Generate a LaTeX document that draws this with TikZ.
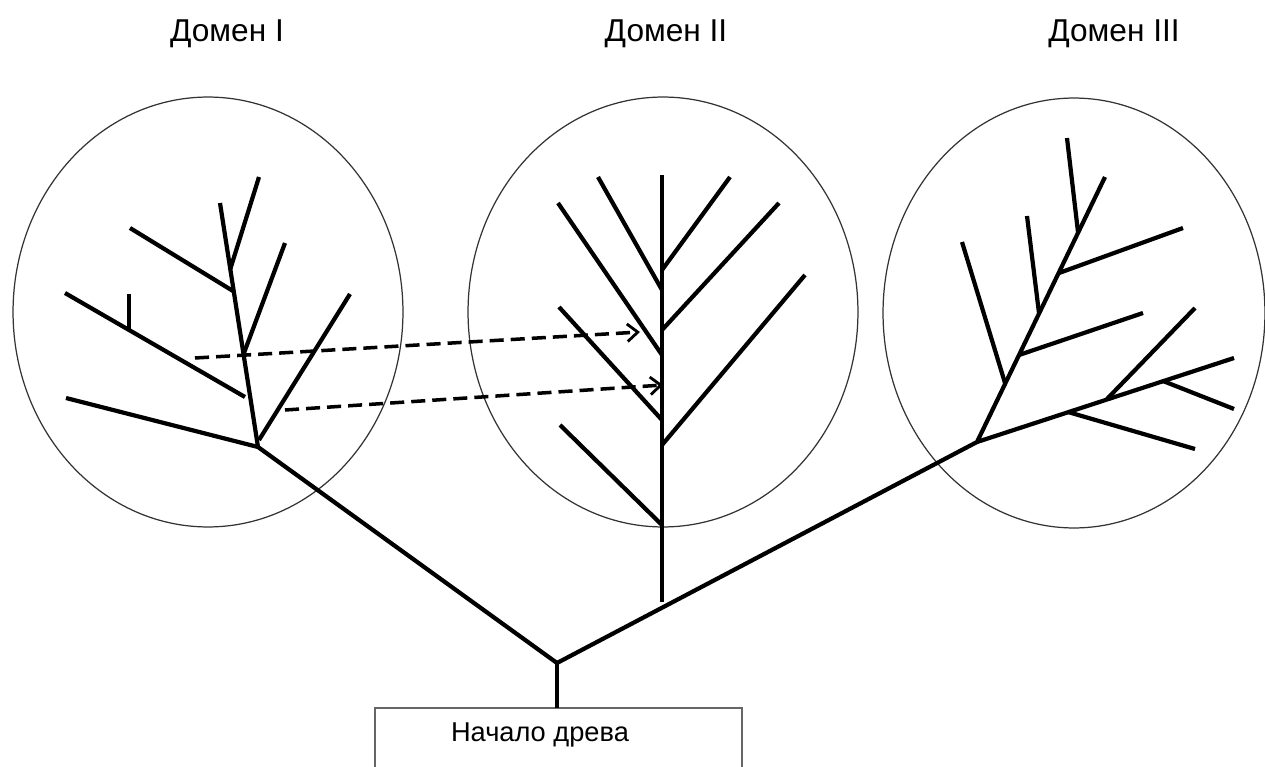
\documentclass[tikz,border=0pt]{standalone}
\usepackage{fontspec}
\setmainfont{Liberation Sans}
\usetikzlibrary{positioning}
\usetikzlibrary{arrows.meta}

\tikzset{
	branch/.style={line width=2.4pt, line join=round},
	domainring/.style={line width=0.7pt, black!80},
	transfer/.style={line width=2pt, dash pattern=on 8pt off 4pt, -{Straight Barb[length=6pt, width=10pt, line width=1.6pt]}},
	title/.style={font=\fontsize{18}{22}\selectfont, anchor=base}
}

\begin{document}
\begin{tikzpicture}[x=0.02cm, y=-0.02cm]
				\useasboundingbox (0,0) rectangle (1265,767);
				\clip (0,0) rectangle (1265,767);

				% titles
				\node[title] (t1) at (227,42) {Домен I};
				\node[title] (t2) at (666,42) {Домен II};
				\node[title] (t3) at (1114,42) {Домен III};

				% domains
				\draw[domainring] (208,312) ellipse [x radius=3.9cm, y radius=4.3cm];
				\draw[domainring] (663,312) ellipse [x radius=3.9cm, y radius=4.3cm];
				\draw[domainring] (1074,313) ellipse [x radius=3.82cm, y radius=4.3cm];

				% root and box
				\coordinate (root) at (557,663);
				\coordinate (boxtop) at (557,708);
				\draw[black!60, line width=0.6pt] (375,708) rectangle (742,800);
				\node[anchor=base, font=\fontsize{15.5}{18}\selectfont] (start) at (540,741) {Начало древа};
				\draw[branch] (root) -- (boxtop);

				% tree I
				\coordinate (a0) at (258,447);
				\coordinate (a1) at (220,203);
				\coordinate (a2) at (230,270);
				\coordinate (a3) at (233,291);
				\coordinate (a4) at (244,353);
				\coordinate (a5) at (259,440);
				\coordinate (a6) at (245,397);
				\coordinate (a7) at (129,330);
				\draw[branch] (root) -- (a0) -- (a1);
				\draw[branch] (a2) -- (259,177);
				\draw[branch] (a3) -- (130,228);
				\draw[branch] (a4) -- (285,243);
				\draw[branch] (a5) -- (350,294);
				\draw[branch] (a6) -- (65,293);
				\draw[branch] (a7) -- (129,294);
				\draw[branch] (a0) -- (66,398);

				% tree II
				\coordinate (b0) at (662,602);
				\coordinate (b1) at (662,175);
				\draw[branch] (b0) -- (b1);
				\draw[branch] (662,290) -- (598,177);
				\draw[branch] (662,355) -- (558,203);
				\draw[branch] (662,420) -- (559,307);
				\draw[branch] (662,525) -- (560,425);
				\draw[branch] (662,270) -- (730,177);
				\draw[branch] (662,330) -- (779,203);
				\draw[branch] (662,445) -- (805,275);

				% tree III
				\coordinate (c0) at (977,442);
				\coordinate (c1) at (1105,177);
				\coordinate (c2) at (1234,358);
				\draw[branch] (root) -- (c0) -- (c1);
				\draw[branch] (c0) -- (c2);
				\draw[branch] (1005,383) -- (962,242);
				\draw[branch] (1019,355) -- (1143,313);
				\draw[branch] (1039,313) -- (1027,216);
				\draw[branch] (1059,273) -- (1183,228);
				\draw[branch] (1078,232) -- (1067,138);
				\draw[branch] (1068,412) -- (1195,449);
				\draw[branch] (1107,399) -- (1195,308);
				\draw[branch] (1163,381) -- (1234,409);

				% transfers
				\coordinate (s1) at (195,358);
				\coordinate (s2) at (285,410);
				\coordinate (e1) at (640,332);
				\coordinate (e2) at (663,385);
				\draw[transfer] (s1) -- (e1);
				\draw[transfer] (s2) -- (e2);

			\end{tikzpicture}
\end{document}
